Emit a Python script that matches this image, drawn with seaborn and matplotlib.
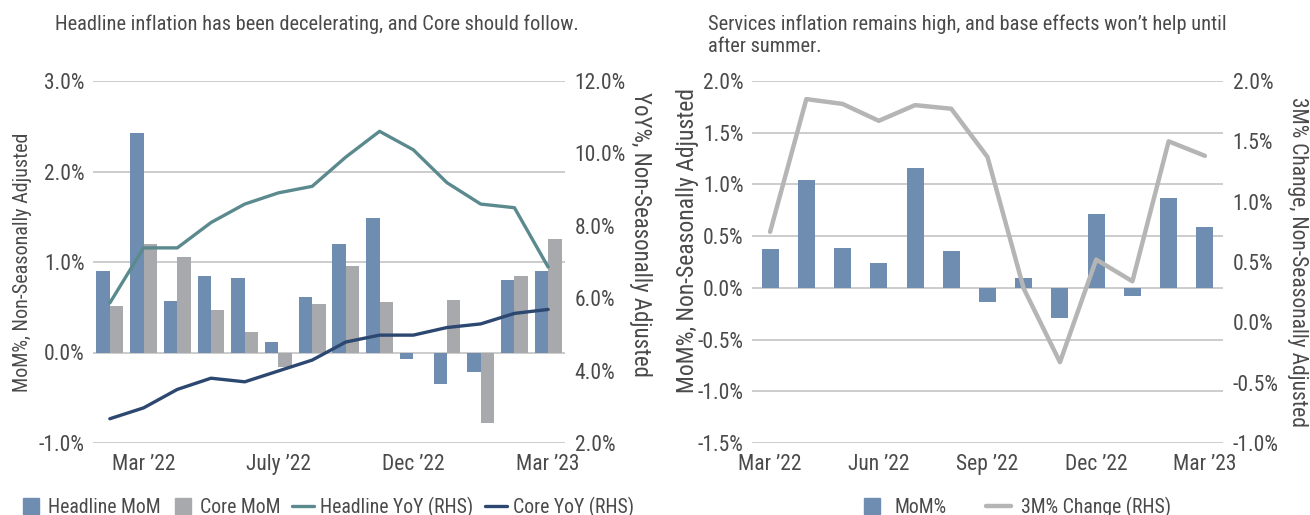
import numpy as np
import pandas as pd
import matplotlib
matplotlib.use("Agg")
import matplotlib.pyplot as plt
import seaborn as sns
from matplotlib import font_manager
from matplotlib.lines import Line2D
from matplotlib.ticker import FuncFormatter, MultipleLocator

# ---- data: left panel (Feb '22 .. Mar '23) ----
months_left = ["Feb ’22", "Mar ’22", "Apr ’22", "May ’22", "Jun ’22", "Jul ’22", "Aug ’22",
               "Sep ’22", "Oct ’22", "Nov ’22", "Dec ’22", "Jan ’23", "Feb ’23", "Mar ’23"]
headline_mom = [0.90, 2.43, 0.57, 0.84, 0.82, 0.12, 0.61, 1.20, 1.49, -0.07, -0.35, -0.21, 0.80, 0.90]
core_mom = [0.51, 1.20, 1.05, 0.47, 0.23, -0.16, 0.54, 0.96, 0.56, 0.00, 0.58, -0.78, 0.84, 1.25]
headline_yoy = [5.87, 7.39, 7.39, 8.09, 8.60, 8.91, 9.09, 9.90, 10.61, 10.10, 9.19, 8.60, 8.50, 6.86]
core_yoy = [2.67, 2.97, 3.48, 3.79, 3.69, 3.99, 4.29, 4.79, 4.98, 4.98, 5.19, 5.29, 5.58, 5.69]
left_tick_labels = ["Mar ’22", "July ’22", "Dec ’22", "Mar ’23"]

# ---- data: right panel (Mar '22 .. Mar '23) ----
months_right = months_left[1:]
services_mom = [0.38, 1.04, 0.39, 0.24, 1.16, 0.36, -0.14, 0.10, -0.29, 0.71, -0.08, 0.87, 0.59]
services_3m = [0.75, 1.85, 1.81, 1.67, 1.80, 1.77, 1.37, 0.28, -0.33, 0.52, 0.34, 1.50, 1.38]
right_tick_labels = ["Mar ’22", "Jun ’22", "Sep ’22", "Dec ’22", "Mar ’23"]

BLUE = "#6F8CB1"
GRAY = "#A8A9AC"
TEAL = "#5B8A8E"
NAVY = "#2C4770"
LGRAY = "#B5B5B5"
GRID = "#C4C4C4"
TEXT = "#4A4A4A"

sns.set_style("white")

# pick a condensed face if one is around, the original uses a narrow font
fonts = font_manager.fontManager.ttflist
names = {f.name for f in fonts}
scale = 1.0
if "Roboto Condensed" in names:
    family = "Roboto Condensed"
elif "Liberation Sans Narrow" in names:
    family, scale = "Liberation Sans Narrow", 1.05
else:
    family, scale = "Open Sans", 0.85
plt.rcParams["font.family"] = [family, "DejaVu Sans"]
plt.rcParams["text.color"] = TEXT
plt.rcParams["axes.labelcolor"] = TEXT
plt.rcParams["xtick.color"] = TEXT
plt.rcParams["ytick.color"] = TEXT

TICK_FS = 15.5 * scale
TITLE_FS = 14.7 * scale
LEG_FS = 14.2 * scale

pct = FuncFormatter(lambda v, _: f"{v:.1f}%")

fig = plt.figure(figsize=(13.1, 5.15), dpi=100)
W, H = 1310, 515
axL = fig.add_axes([93 / W, (H - 443) / H, 472 / W, 362 / H])
axR = fig.add_axes([752 / W, (H - 443) / H, 471 / W, 362 / H])


def style_axis(ax):
    for s in ax.spines.values():
        s.set_visible(False)
    ax.tick_params(axis="both", length=0, labelsize=TICK_FS)


# ---- left panel ----
df_left = pd.DataFrame({
    "month": months_left * 2,
    "value": headline_mom + core_mom,
    "series": ["Headline MoM"] * len(months_left) + ["Core MoM"] * len(months_left),
})
sns.barplot(data=df_left, x="month", y="value", hue="series", order=months_left,
            palette=[BLUE, GRAY], saturation=1, width=0.8, linewidth=0,
            legend=False, ax=axL, zorder=2)
axL.set_ylim(-1, 3)
axL.yaxis.set_major_locator(MultipleLocator(1))
axL.yaxis.set_major_formatter(pct)
axL.grid(axis="y", color=GRID, lw=1.2, zorder=0)
axL.set_axisbelow(True)
axL.set_xlim(-0.5, len(months_left) - 0.5)
axL.set_xticks(np.arange(1, len(months_left), 4), left_tick_labels)
axL.tick_params(axis="x", pad=8)
axL.tick_params(axis="y", pad=6)
axL.set_xlabel("")
axL.set_ylabel("MoM%, Non-Seasonally Adjusted", fontsize=14.5 * scale, va="center")
axL.yaxis.set_label_coords(-0.150, 0.5)
style_axis(axL)

axL2 = axL.twinx()
idx_left = np.arange(len(months_left))
sns.lineplot(x=idx_left, y=headline_yoy, color=TEAL, lw=2.4, ax=axL2)
sns.lineplot(x=idx_left, y=core_yoy, color=NAVY, lw=2.4, ax=axL2)
axL2.set_ylim(2, 12)
axL2.yaxis.set_major_locator(MultipleLocator(2))
axL2.yaxis.set_major_formatter(pct)
axL2.set_ylabel("YoY%, Non-Seasonally Adjusted", fontsize=16.5 * scale, rotation=270, va="center")
axL2.yaxis.set_label_coords(1.159, 0.575)
axL2.tick_params(axis="y", pad=7)
style_axis(axL2)

# ---- right panel ----
sns.barplot(x=months_right, y=services_mom, color=BLUE, saturation=1, width=0.47,
            linewidth=0, ax=axR, zorder=2)
axR.set_ylim(-1.5, 2.0)
axR.yaxis.set_major_locator(MultipleLocator(0.5))
axR.yaxis.set_major_formatter(pct)
axR.grid(axis="y", color=GRID, lw=1.2, zorder=0)
axR.set_axisbelow(True)
axR.set_xlim(-0.5, len(months_right) - 0.5)
axR.set_xticks(np.arange(0, len(months_right), 3), right_tick_labels)
axR.tick_params(axis="x", pad=8)
axR.tick_params(axis="y", pad=6)
axR.set_ylabel("MoM%, Non-Seasonally Adjusted", fontsize=17 * scale, va="center")
axR.yaxis.set_label_coords(-0.138, 0.56)
style_axis(axR)

axR2 = axR.twinx()
sns.lineplot(x=np.arange(len(months_right)), y=services_3m, color=LGRAY, lw=3.2, ax=axR2)
axR2.set_ylim(-1.0, 2.0)
axR2.yaxis.set_major_locator(MultipleLocator(0.5))
axR2.yaxis.set_major_formatter(pct)
axR2.set_ylabel("3M% Change, Non-Seasonally Adjusted", fontsize=15.5 * scale, rotation=270, va="center")
axR2.yaxis.set_label_coords(1.159, 0.5)
axR2.tick_params(axis="y", pad=7)
style_axis(axR2)

# ---- titles ----
fig.text(55 / W, 1 - 14 / H, "Headline inflation has been decelerating, and Core should follow.",
         fontsize=TITLE_FS, ha="left", va="top")
fig.text(708 / W, 1 - 14 / H, "Services inflation remains high, and base effects won’t help until\nafter summer.",
         fontsize=TITLE_FS, ha="left", va="top", linespacing=1.25)

# ---- legends ----
left_handles = [
    Line2D([], [], ls="", marker="s", markersize=12, color=BLUE, label="Headline MoM"),
    Line2D([], [], ls="", marker="s", markersize=12, color=GRAY, label="Core MoM"),
    Line2D([], [], color=TEAL, lw=2.4, label="Headline YoY (RHS)"),
    Line2D([], [], color=NAVY, lw=2.4, label="Core YoY (RHS)"),
]
fig.legend(handles=left_handles, loc="center", bbox_to_anchor=(327 / W, 1 - 507 / H), ncol=4,
           frameon=False, fontsize=LEG_FS, handlelength=1.1, handletextpad=0.3, columnspacing=0.6,
           borderaxespad=0, borderpad=0)
right_handles = [
    Line2D([], [], ls="", marker="s", markersize=12, color=BLUE, label="MoM%"),
    Line2D([], [], color=LGRAY, lw=3.2, label="3M% Change (RHS)"),
]
fig.legend(handles=right_handles, loc="center", bbox_to_anchor=(1015 / W, 1 - 507 / H), ncol=2,
           frameon=False, fontsize=LEG_FS, handlelength=1.3, handletextpad=0.5, columnspacing=2.0,
           borderaxespad=0, borderpad=0)

fig.savefig("out.png", dpi=100)
